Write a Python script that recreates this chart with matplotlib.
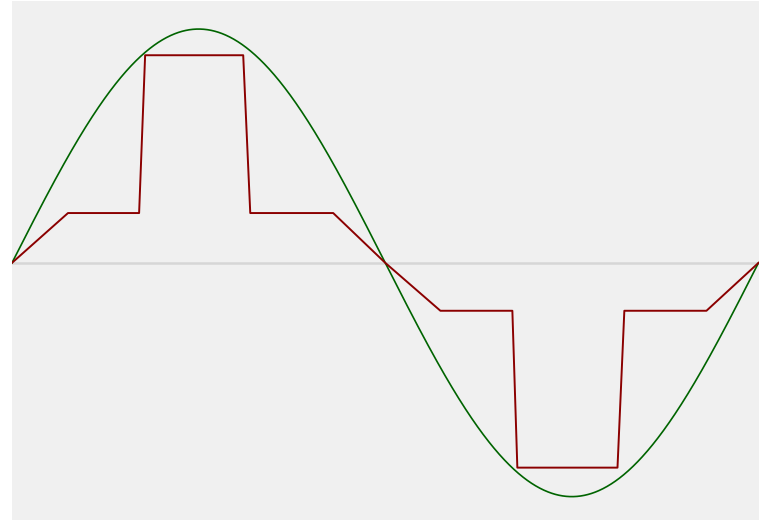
import numpy as np
import matplotlib
matplotlib.use('Agg')
import matplotlib.pyplot as plt

# red stepped waveform, breakpoints (phase in degrees, level)
step_phase = [0, 27.0, 61.3, 64.2, 111.5, 114.9, 154.9, 180.0, 206.6,
              241.3, 243.7, 292.0, 295.3, 334.9, 360]
step_value = [0, 0.213, 0.213, 0.888, 0.888, 0.213, 0.213, 0.0, -0.205,
              -0.205, -0.876, -0.876, -0.205, -0.205, 0]

# green reference sine
sine_amplitude = 1.0
sine_period = 360

fig = plt.figure(figsize=(7.65, 5.2), dpi=100)
ax = fig.add_axes([12 / 765, 0, 746.5 / 765, 519 / 520])
ax.set_facecolor('#f0f0f0')

ax.axhline(0, color='#d6d6d6', lw=1.8, zorder=1)

phase = np.linspace(0, sine_period, 1441)
ax.plot(phase, sine_amplitude * np.sin(np.radians(phase)), color='#006400', lw=1.2, zorder=2)
ax.plot(step_phase, step_value, color='#8b0000', lw=1.4, zorder=3)

ax.set_xlim(0, 360)
ax.set_ylim(-1.1, 1.12)
ax.set_xticks([])
ax.set_yticks([])
for s in ax.spines.values():
    s.set_visible(False)

fig.savefig('out.png', dpi=100, facecolor='white')
